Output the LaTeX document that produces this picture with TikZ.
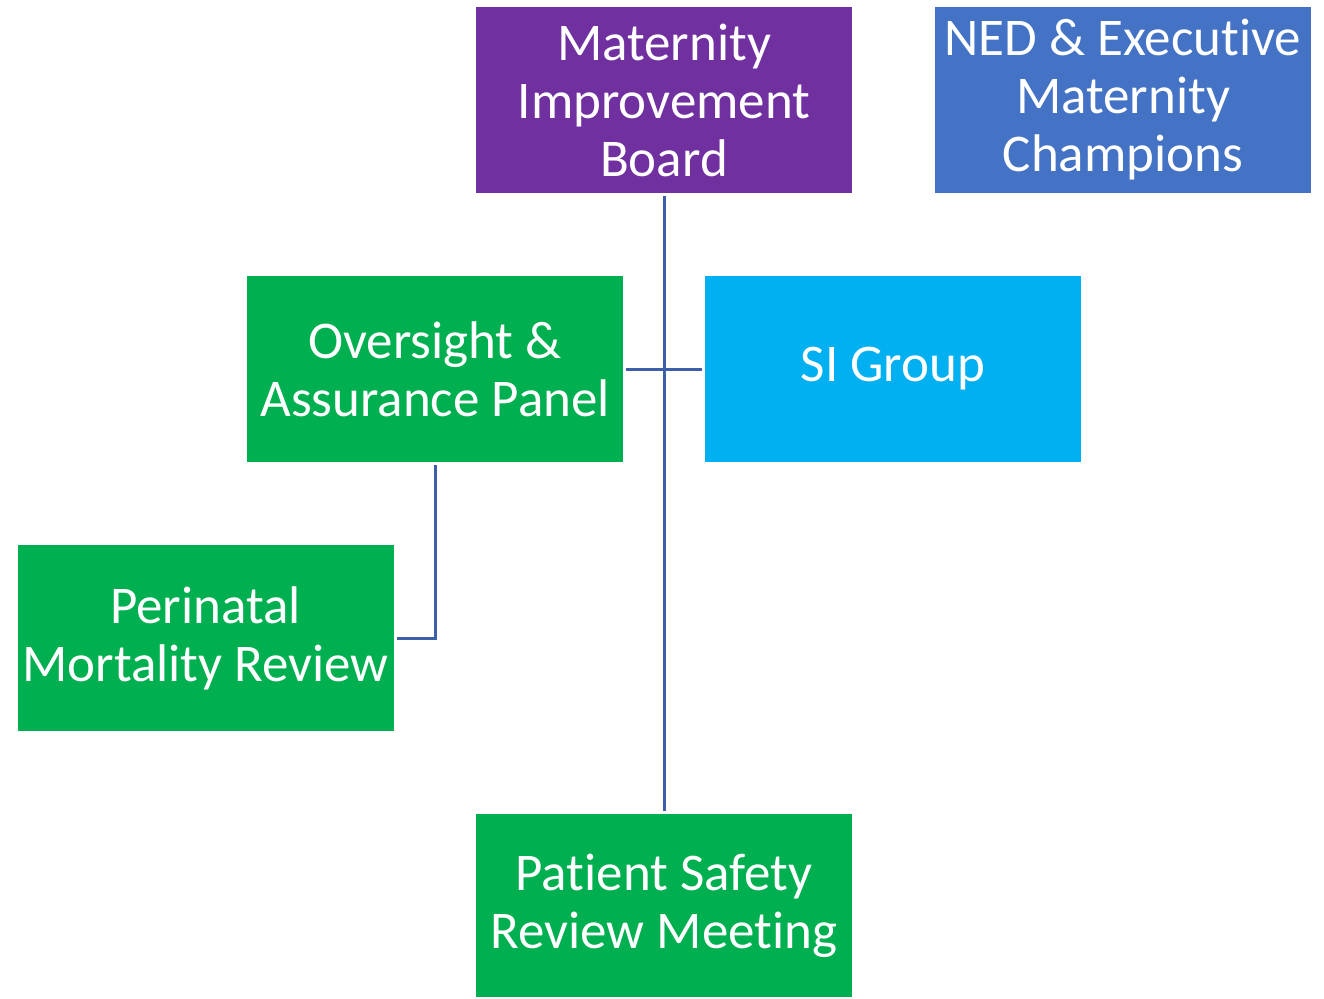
\documentclass[tikz,border=0pt]{standalone}
\usepackage{fontspec}
\setmainfont[Ligatures={NoCommon}]{Carlito}
\definecolor{cpurple}{HTML}{7030A0}
\definecolor{cblue}{HTML}{4472C4}
\definecolor{cgreen}{HTML}{00B050}
\definecolor{ccyan}{HTML}{00B0F0}
\definecolor{cline}{HTML}{3D5FA8}
\begin{document}
\begin{tikzpicture}[x=1pt,y=-1pt,
  box/.style={minimum width=376pt,minimum height=186pt,inner sep=0pt,outer sep=0pt,
    text=white,align=center,font=\fontsize{53}{58}\selectfont},
  conn/.style={draw=cline,line width=3pt,shorten >=3pt,shorten <=3pt}]
\useasboundingbox (0,0) rectangle (1324,998);
\node[box,fill=cpurple] (mib) at (664,100) {Maternity\\Improvement\\Board};
\node[box,fill=cblue] (ned) at (1123,100) {NED \& Executive\\Maternity\\Champions};
\node[box,fill=cgreen] (oap) at (435,369) {Oversight \&\\Assurance Panel};
\node[box,fill=ccyan] (si) at (893,369) {\raisebox{-3pt}{SI Group}};
\node[box,fill=cgreen] (pmr) at (205.5,638) {Perinatal\\Mortality Review};
\node[box,fill=cgreen,minimum height=183pt] (psr) at (664,905.5) {Patient Safety\\Review Meeting};
\draw[conn] (mib.south) -- (psr.north);
\draw[conn] (oap.east) -- (si.west);
\draw[conn] (oap.south) |- (pmr.east);
\end{tikzpicture}
\end{document}
